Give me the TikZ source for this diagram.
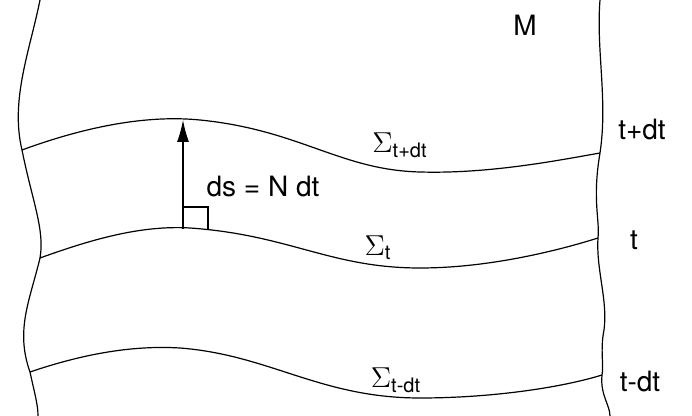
\documentclass[tikz,border=0pt]{standalone}
\usepackage{fontspec}
\setmainfont{TeX Gyre Heros}
\usetikzlibrary{arrows,arrows.meta}
\tikzstyle{line} = [draw, -{Latex[length=11pt,width=6pt]}]

\begin{document}
\begin{tikzpicture}[x=0.5pt, y=-0.5pt,
   slice/.style={line width=0.6pt},
   lab/.style={font=\fontsize{14}{16}\selectfont, inner sep=1pt}]
\useasboundingbox (0,0) rectangle (692,416);

% edges of M
\draw[slice] (40,0) .. controls (30,50) and (10,100) .. (22,150)
   .. controls (32,200) and (45,230) .. (40,258)
   .. controls (30,300) and (15,330) .. (30,372)
   .. controls (35,395) and (38,405) .. (38,416);
\draw[slice] (600,0) .. controls (596,50) and (608,100) .. (600,153)
   .. controls (592,200) and (600,220) .. (598,238)
   .. controls (596,270) and (608,300) .. (604,330)
   .. controls (600,350) and (604,365) .. (602,375)
   .. controls (600,395) and (610,405) .. (610,416);

% slices
\draw[slice] (22,150) .. controls (90,125) and (150,115) .. (200,120)
   .. controls (300,130) and (340,170) .. (420,172)
   .. controls (490,174) and (560,160) .. (600,153);
\draw[slice] (40,258) .. controls (90,240) and (140,225) .. (190,228)
   .. controls (290,235) and (330,268) .. (420,268)
   .. controls (490,268) and (560,250) .. (598,238);
\draw[slice] (30,372) .. controls (80,355) and (130,345) .. (180,348)
   .. controls (270,355) and (320,398) .. (420,398)
   .. controls (490,398) and (560,388) .. (602,375);

% normal
\coordinate (foot) at (183,229);
\coordinate (tip) at (183,120);
\path[line, line width=0.6pt] (foot) -- (tip);
\draw[slice] (183,207) -- (208,207) -- (208,229);

\node[lab] (ds) at (263,187) {ds = N dt};
\node[lab] (M) at (525,25) {M};
\node[lab] (splus) at (400,145) {$\Sigma_{\mbox{\fontsize{10}{12}\selectfont t+dt}}$};
\node[lab] (s0) at (378,248) {$\Sigma_{\mbox{\fontsize{10}{12}\selectfont t}}$};
\node[lab] (sminus) at (396,380) {$\Sigma_{\mbox{\fontsize{10}{12}\selectfont t-dt}}$};
\node[lab] (tplus) at (642,130) {t+dt};
\node[lab] (t0) at (634,240) {t};
\node[lab] (tminus) at (640,382) {t-dt};
\end{tikzpicture}
\end{document}
